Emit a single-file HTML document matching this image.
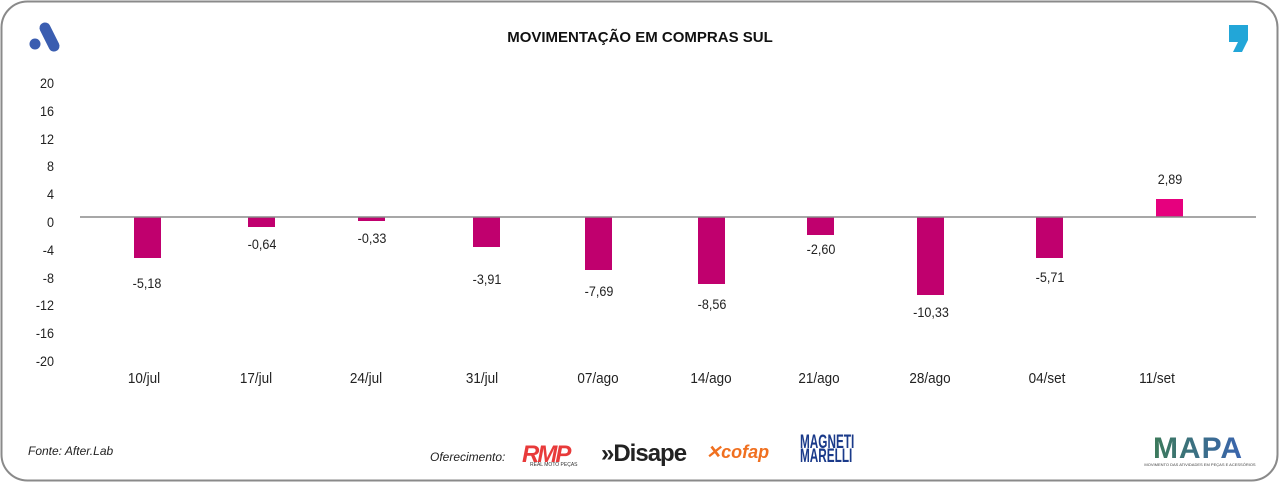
<!DOCTYPE html>
<html><head><meta charset="utf-8"><style>
body{margin:0;width:1280px;height:483px;background:#fff;overflow:hidden;font-family:"Liberation Sans",sans-serif;}
</style></head><body>
<svg width="1280" height="483" xmlns="http://www.w3.org/2000/svg" font-family="Liberation Sans, sans-serif">
<rect x="1.5" y="1.5" width="1276" height="479" rx="26" ry="26" fill="#fff" stroke="#8a8a8a" stroke-width="2"/>
<line x1="45" y1="28" x2="54" y2="46" stroke="#3a5db0" stroke-width="11" stroke-linecap="round"/>
<circle cx="35" cy="44" r="5.5" fill="#3a5db0"/>
<path d="M1229 25 H1248 V40 L1242 52 H1233 L1238 42 H1229 Z" fill="#22a6d8"/>
<text x="640" y="42" text-anchor="middle" font-size="15" font-weight="bold" fill="#111">MOVIMENTAÇÃO EM COMPRAS SUL</text>
<g font-size="14" fill="#222" text-anchor="end" transform="scale(0.9,1)">
<text x="60" y="88">20</text><text x="60" y="116">16</text><text x="60" y="144">12</text>
<text x="60" y="171">8</text><text x="60" y="199">4</text><text x="60" y="227">0</text>
<text x="60" y="255">-4</text><text x="60" y="283">-8</text><text x="60" y="310">-12</text>
<text x="60" y="338">-16</text><text x="60" y="366">-20</text>
</g>
<g fill="#c0006e">
<rect x="134" y="217" width="27" height="41"/>
<rect x="248" y="217" width="27" height="10"/>
<rect x="358" y="217" width="27" height="4"/>
<rect x="473" y="217" width="27" height="30"/>
<rect x="585" y="217" width="27" height="53"/>
<rect x="698" y="217" width="27" height="67"/>
<rect x="807" y="217" width="27" height="18"/>
<rect x="917" y="217" width="27" height="78"/>
<rect x="1036" y="217" width="27" height="41"/>
</g>
<rect x="1156" y="199" width="27" height="18" fill="#e6007e"/>
<line x1="80" y1="217" x2="1256" y2="217" stroke="#8a8a8a" stroke-width="1.5"/>
<g font-size="14" fill="#222" text-anchor="middle">
<g transform="translate(147,288) scale(0.9,1)"><text>-5,18</text></g>
<g transform="translate(262,249) scale(0.9,1)"><text>-0,64</text></g>
<g transform="translate(372,243) scale(0.9,1)"><text>-0,33</text></g>
<g transform="translate(487,284) scale(0.9,1)"><text>-3,91</text></g>
<g transform="translate(599,296) scale(0.9,1)"><text>-7,69</text></g>
<g transform="translate(712,309) scale(0.9,1)"><text>-8,56</text></g>
<g transform="translate(821,254) scale(0.9,1)"><text>-2,60</text></g>
<g transform="translate(931,317) scale(0.9,1)"><text>-10,33</text></g>
<g transform="translate(1050,282) scale(0.9,1)"><text>-5,71</text></g>
<g transform="translate(1170,184) scale(0.9,1)"><text>2,89</text></g>
</g>
<g font-size="15" fill="#222" text-anchor="middle">
<g transform="translate(144,383) scale(0.9,1)"><text>10/jul</text></g>
<g transform="translate(256,383) scale(0.9,1)"><text>17/jul</text></g>
<g transform="translate(366,383) scale(0.9,1)"><text>24/jul</text></g>
<g transform="translate(482,383) scale(0.9,1)"><text>31/jul</text></g>
<g transform="translate(598,383) scale(0.9,1)"><text>07/ago</text></g>
<g transform="translate(711,383) scale(0.9,1)"><text>14/ago</text></g>
<g transform="translate(819,383) scale(0.9,1)"><text>21/ago</text></g>
<g transform="translate(930,383) scale(0.9,1)"><text>28/ago</text></g>
<g transform="translate(1047,383) scale(0.9,1)"><text>04/set</text></g>
<g transform="translate(1157,383) scale(0.9,1)"><text>11/set</text></g>
</g>
<text x="28" y="455" font-size="12" font-style="italic" fill="#222">Fonte: After.Lab</text>
<text x="430" y="461" font-size="12" font-style="italic" fill="#222">Oferecimento:</text>
<text x="522" y="462" font-size="24" font-weight="bold" font-style="italic" fill="#e83a3a" letter-spacing="-2">RMP</text>
<text x="530" y="466" font-size="5" fill="#333">REAL MOTO PEÇAS</text>
<text x="601" y="461" font-size="24" font-weight="bold" fill="#222" letter-spacing="-1">»Disape</text>
<text x="706" y="458" font-size="18" font-weight="bold" font-style="italic" fill="#f07020">✕cofap</text>
<g transform="translate(800,448) scale(0.62,1)"><text font-size="19" font-weight="bold" fill="#1a3a8a">MAGNETI</text></g>
<g transform="translate(800,462) scale(0.62,1)"><text font-size="19" font-weight="bold" fill="#1a3a8a">MARELLI</text></g>
<defs><linearGradient id="g" x1="0" x2="1"><stop offset="0" stop-color="#3c7a5a"/><stop offset="1" stop-color="#3a64b0"/></linearGradient></defs>
<text x="1198" y="458" text-anchor="middle" font-size="30" font-weight="bold" fill="url(#g)" letter-spacing="1">MAPA</text>
<text x="1200" y="466" text-anchor="middle" font-size="4" fill="#444">MOVIMENTO DAS ATIVIDADES EM PEÇAS E ACESSÓRIOS</text>
</svg>
</body></html>
